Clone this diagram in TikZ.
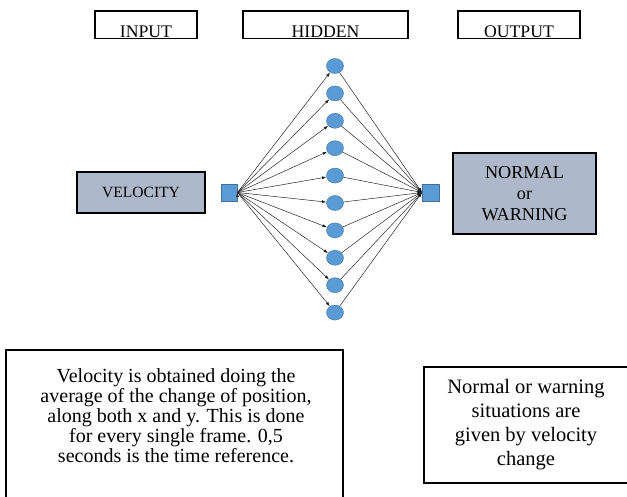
\documentclass[tikz,border=0pt]{standalone}
\usepackage{fontspec}
\setmainfont{Liberation Serif}
\usetikzlibrary{shapes.geometric, positioning, arrows.meta}

\definecolor{nodeblue}{RGB}{91,155,213}
\definecolor{nodeedge}{RGB}{65,113,156}
\definecolor{slate}{RGB}{173,185,202}

\begin{document}
\begin{tikzpicture}
	[x=1pt, y=-1pt, on grid, >={Latex[length=4.5pt,width=3pt]},
	 hid/.style={ellipse, fill=nodeblue, draw=nodeedge, line width=.4pt, minimum width=17pt, minimum height=15pt, inner sep=0pt},
	 sq/.style={rectangle, fill=nodeblue, draw=nodeedge, line width=.4pt, minimum width=16.5pt, minimum height=17pt, inner sep=0pt},
	 title/.style={draw, line width=1.5pt, inner xsep=0pt, inner ysep=1.5pt, text height=24.5pt, text depth=0pt, anchor=south, font=\fontsize{17.7pt}{20pt}\selectfont},
	 lbox/.style={draw, line width=1.5pt, fill=slate, inner sep=0pt, align=center},
	 note/.style={draw, line width=1.5pt, inner sep=0pt},
	 wire/.style={line width=.5pt, draw=black!85}]
   \useasboundingbox (0,0) rectangle (627,497);
   % column titles
   \node[title, minimum width=102pt] (t_in)  at (146,39.5)   {INPUT};
   \node[title, minimum width=165pt] (t_hid) at (325.5,39.5) {HIDDEN};
   \node[title, minimum width=122pt] (t_out) at (519,39.5)   {OUTPUT};
   % input and output
   \node[lbox, minimum width=128pt, minimum height=41pt, font=\fontsize{15.6pt}{18pt}\selectfont] (vel) at (141,192.5) {VELOCITY};
   \node[sq] (i_sq) at (229,192.5) {};
   \node[sq] (o_sq) [right=201.5pt of i_sq] {};
   \node[lbox, minimum width=143pt, minimum height=81pt, font=\fontsize{18.2pt}{21pt}\selectfont] (res) at (524.5,193.5) {NORMAL\\or\\WARNING};
   % hidden layer
   \node[hid] (h_1)  at (335,66) {};
   \node[hid] (h_2)  [below=27.4pt of h_1] {};
   \node[hid] (h_3)  [below=27.4pt of h_2] {};
   \node[hid] (h_4)  [below=27.4pt of h_3] {};
   \node[hid] (h_5)  [below=27.4pt of h_4] {};
   \node[hid] (h_6)  [below=27.4pt of h_5] {};
   \node[hid] (h_7)  [below=27.4pt of h_6] {};
   \node[hid] (h_8)  [below=27.4pt of h_7] {};
   \node[hid] (h_9)  [below=27.4pt of h_8] {};
   \node[hid] (h_10) [below=27.4pt of h_9] {};
   \path[->, wire]
    (i_sq.east)
          edge (h_1) edge (h_2) edge (h_3) edge (h_4) edge (h_5)
          edge (h_6) edge (h_7) edge (h_8) edge (h_9) edge (h_10)
    (h_1) edge (o_sq.west)
    (h_2) edge (o_sq.west)
    (h_3) edge (o_sq.west)
    (h_4) edge (o_sq.west)
    (h_5) edge (o_sq.west)
    (h_6) edge (o_sq.west)
    (h_7) edge (o_sq.west)
    (h_8) edge (o_sq.west)
    (h_9) edge (o_sq.west)
    (h_10) edge (o_sq.west);
   % notes
   \node[note, minimum width=337pt, minimum height=150pt] (n_vel) at (174.5,425) {};
   \node[align=center, font=\fontsize{20pt}{20pt}\selectfont] (n_vel_txt) at (176,416)
      {Velocity is obtained doing the\\average of the change of position,\\along both x and y. This is done\\for every single frame. 0,5\\seconds is the time reference.};
   \node[note, minimum width=204pt, minimum height=116pt, align=center, font=\fontsize{20.5pt}{24pt}\selectfont] (n_res) at (526,425)
      {Normal or warning\\situations are\\given by velocity\\change};
\end{tikzpicture}
\end{document}
